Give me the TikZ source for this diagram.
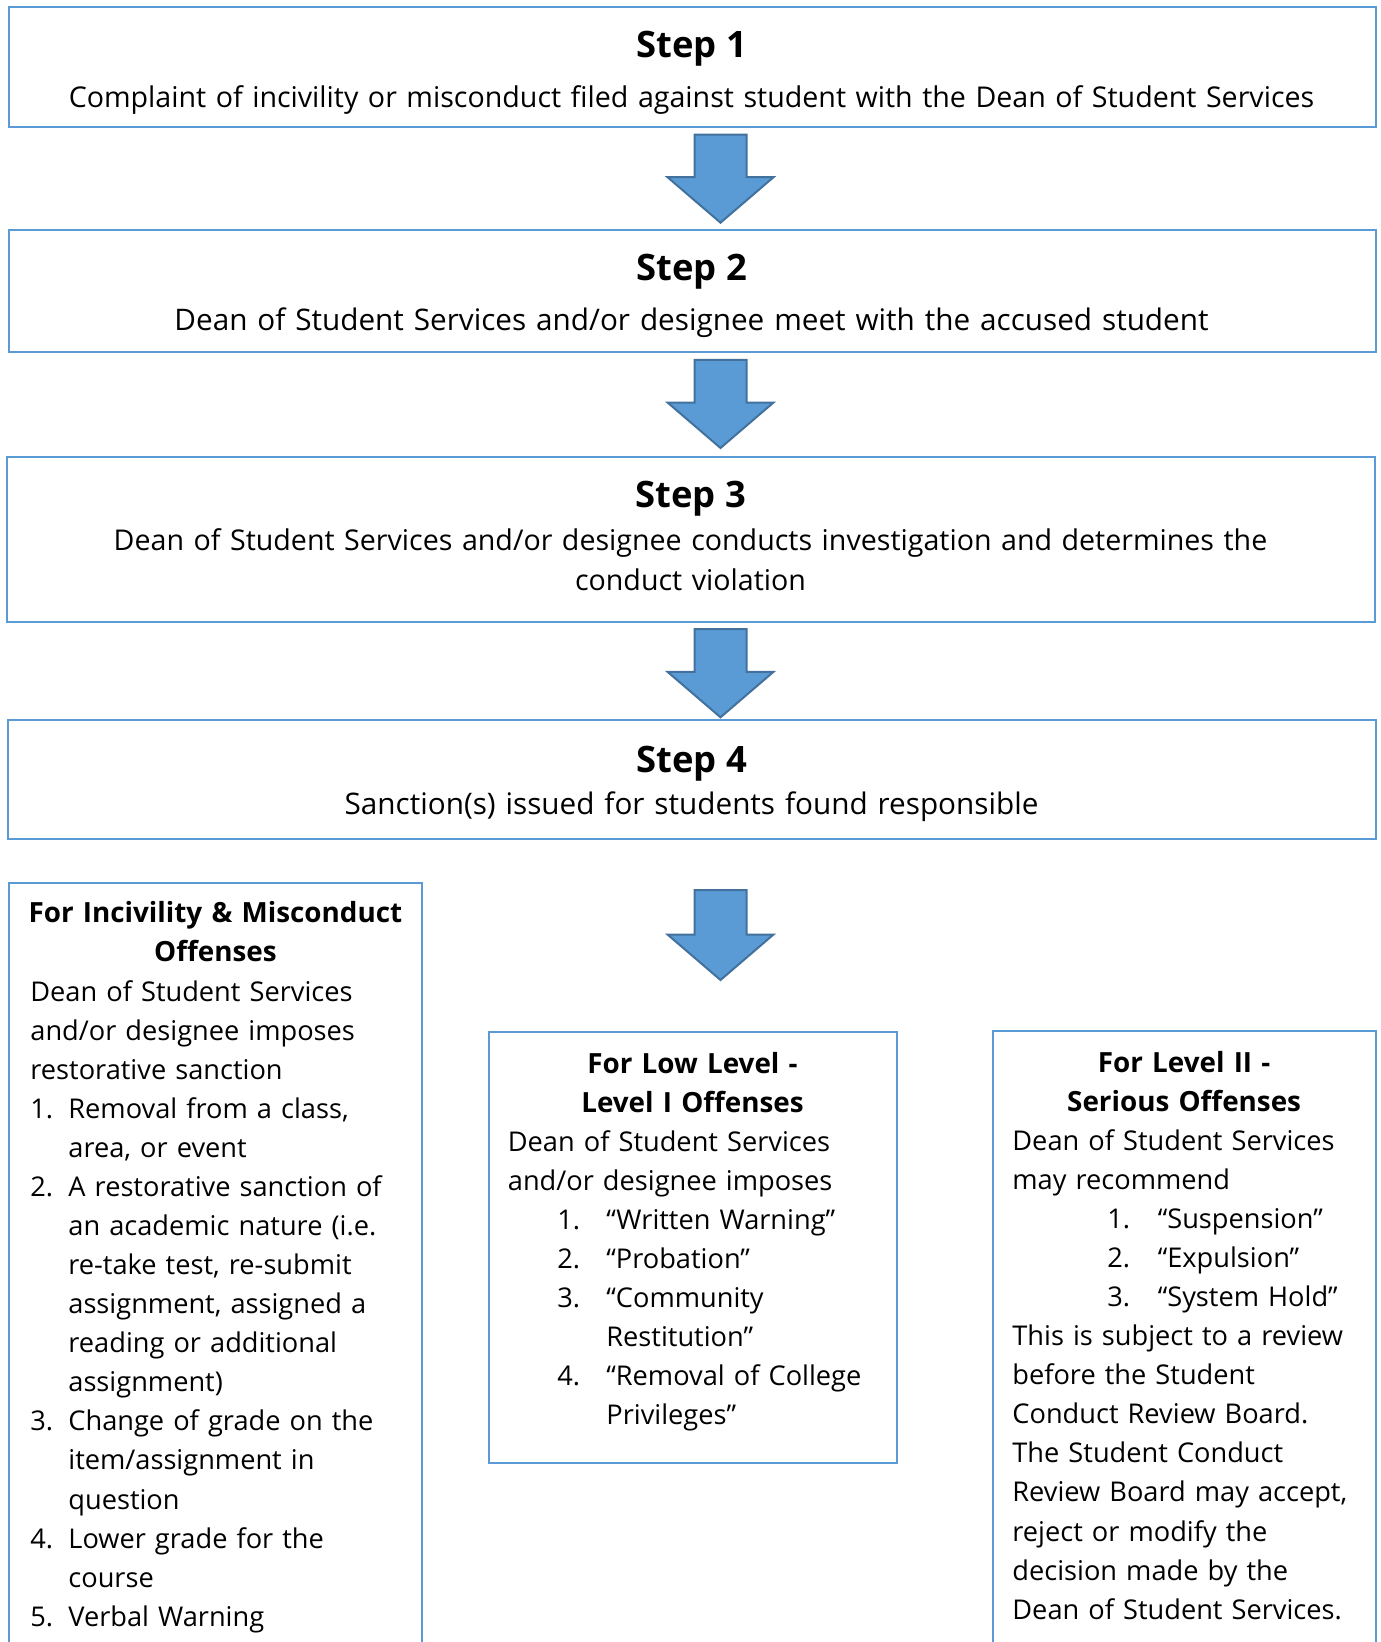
\documentclass[tikz,border=0pt]{standalone}
\usepackage{fontspec}
\setmainfont{Open Sans}
\usetikzlibrary{fit,calc}
\definecolor{boxblue}{HTML}{5B9BD5}
\definecolor{arrowfill}{HTML}{5B9BD5}
\definecolor{arrowline}{HTML}{41719C}
\newcommand\itm[3]{\hspace*{#1}\makebox[#2][l]{#3}}
\newcommand\blockdownarrow[2]{%
  \draw[barrow] let \p1=(#1), \p2=(#2) in
    (\x1-13pt,\y1) -- (\x1+13pt,\y1) -- (\x1+13pt,\y2+22.75pt) -- (\x1+26.5pt,\y2+22.75pt)
    -- (\x2,\y2) -- (\x1-26.5pt,\y2+22.75pt) -- (\x1-13pt,\y2+22.75pt) -- cycle;}
\begin{document}
\begin{tikzpicture}[x=0.5pt,y=-0.5pt,
  boxs/.style={draw=boxblue, line width=1pt, inner sep=0pt},
  barrow/.style={fill=arrowfill, draw=arrowline, line width=1pt, line join=miter},
  steptitle/.style={font=\fontsize{18.2pt}{21pt}\selectfont\bfseries, inner sep=0pt, anchor=base},
  stepbody/.style={font=\fontsize{#1}{20pt}\selectfont, inner sep=0pt, anchor=base, text width=670pt, align=center},
  stepbody/.default=14.5pt,
  boxtitle/.style={font=\fontsize{13.9pt}{19.52pt}\selectfont\bfseries, inner sep=0pt, anchor=base, text width=200pt, align=center},
  boxbody/.style={font=\fontsize{13.6pt}{19.52pt}\selectfont, inner sep=0pt, anchor=base west, text width=200pt, align=left}]
\useasboundingbox (0,0) rectangle (1380,1642);
\clip (0,0) rectangle (1380,1642);
% boxes
\node[boxs, fit={(8.6,7.5) (1375.8,127.2)}] (box1) {};
\node[boxs, fit={(8.6,230.5) (1375.8,351.8)}] (box2) {};
\node[boxs, fit={(6.5,456.5) (1374.7,622)}] (box3) {};
\node[boxs, fit={(7.5,720.3) (1375.8,838.6)}] (box4) {};
\node[boxs, fit={(8.5,882.5) (422.3,1700)}] (boxL) {};
\node[boxs, fit={(488.5,1032) (896.5,1462.5)}] (boxM) {};
\node[boxs, fit={(992.7,1030.5) (1375.5,1700)}] (boxR) {};
% step texts
\node[steptitle] (t1) at (691.5,57.2) {Step 1};
\node[stepbody=14.3pt] (b1) at (691.5,107.2) {Complaint of incivility or misconduct filed against student with the Dean of Student Services};
\node[steptitle] (t2) at (691.5,280.5) {Step 2};
\node[stepbody=14.85pt] (b2) at (691.5,331) {Dean of Student Services and/or designee meet with the accused student};
\node[steptitle] (t3) at (690.5,507.5) {Step 3};
\node[stepbody=14.3pt] (b3) at (690.5,550) {Dean of Student Services and/or designee conducts investigation and determines the\\conduct violation};
\node[steptitle] (t4) at (691.5,772) {Step 4};
\node[stepbody=14.85pt] (b4) at (691.5,814) {Sanction(s) issued for students found responsible};
% arrows
\coordinate (ax) at (720.5,0);
\coordinate (a1top) at ($(box1.south -| ax)+(0,6.5)$);
\coordinate (a1tip) at ($(box2.north -| ax)+(0,-6.8)$);
\coordinate (a2top) at ($(box2.south -| ax)+(0,7.2)$);
\coordinate (a2tip) at ($(box3.north -| ax)+(0,-7.5)$);
\coordinate (a3top) at ($(box3.south -| ax)+(0,6)$);
\coordinate (a3tip) at ($(box4.north -| ax)+(0,-2)$);
\coordinate (a4top) at ($(box4.south -| ax)+(0,50.4)$);
\coordinate (a4tip) at ($(box4.south -| ax)+(0,140.4)$);
\blockdownarrow{a1top}{a1tip}
\blockdownarrow{a2top}{a2tip}
\blockdownarrow{a3top}{a3tip}
\blockdownarrow{a4top}{a4tip}
% left box
\node[boxtitle] (lt) at (215.4,922.7) {For Incivility \& Misconduct\\Offenses};
\node[boxbody] (lb) at (30,1001.5) {Dean of Student Services\\
and/or designee imposes\\
restorative sanction\\
\itm{0pt}{19pt}{1.}Removal from a class,\\
\itm{19pt}{0pt}{}area, or event\\
\itm{0pt}{19pt}{2.}A restorative sanction of\\
\itm{19pt}{0pt}{}an academic nature (i.e.\\
\itm{19pt}{0pt}{}re-take test, re-submit\\
\itm{19pt}{0pt}{}assignment, assigned a\\
\itm{19pt}{0pt}{}reading or additional\\
\itm{19pt}{0pt}{}assignment)\\
\itm{0pt}{19pt}{3.}Change of grade on the\\
\itm{19pt}{0pt}{}item/assignment in\\
\itm{19pt}{0pt}{}question\\
\itm{0pt}{19pt}{4.}Lower grade for the\\
\itm{19pt}{0pt}{}course\\
\itm{0pt}{19pt}{5.}Verbal Warning};
% middle box
\node[boxtitle] (mt) at (692.5,1073) {For Low Level -\\Level I Offenses};
\node[boxbody] (mb) at (507.5,1151.2) {Dean of Student Services\\
and/or designee imposes\\
\itm{24.75pt}{24.5pt}{1.}“Written Warning”\\
\itm{24.75pt}{24.5pt}{2.}“Probation”\\
\itm{24.75pt}{24.5pt}{3.}“Community\\
\itm{49.25pt}{0pt}{}Restitution”\\
\itm{24.75pt}{24.5pt}{4.}“Removal of College\\
\itm{49.25pt}{0pt}{}Privileges”};
% right box
\node[boxtitle] (rt) at (1184.1,1072.5) {For Level II -\\Serious Offenses};
\node[boxbody] (rb) at (1012,1150.6) {Dean of Student Services\\
may recommend\\
\itm{47.5pt}{25.2pt}{1.}“Suspension”\\
\itm{47.5pt}{25.2pt}{2.}“Expulsion”\\
\itm{47.5pt}{25.2pt}{3.}“System Hold”\\
This is subject to a review\\
before the Student\\
Conduct Review Board.\\
The Student Conduct\\
Review Board may accept,\\
reject or modify the\\
decision made by the\\
Dean of Student Services.};
\end{tikzpicture}
\end{document}
